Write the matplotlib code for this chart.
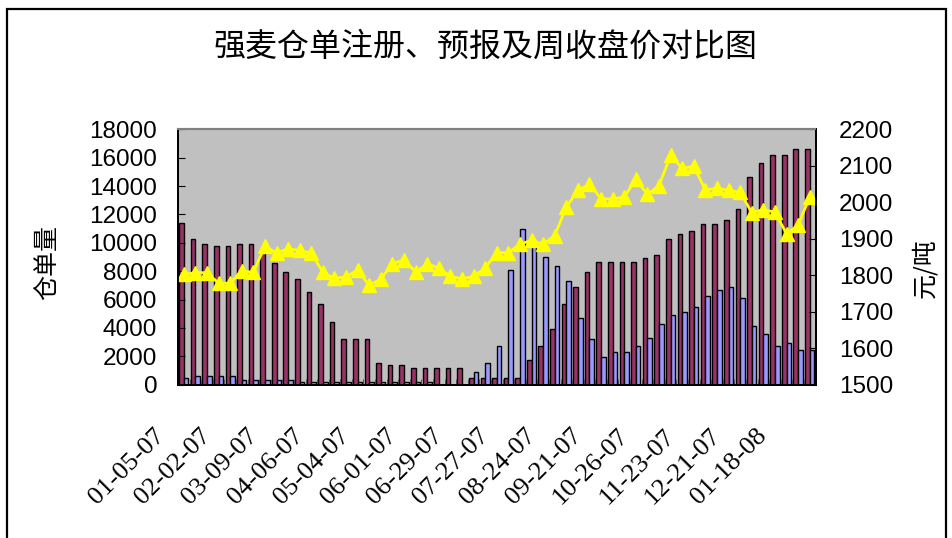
import numpy as np
import matplotlib.pyplot as plt
from matplotlib.patches import Rectangle
from matplotlib.transforms import ScaledTranslation

# weekly data, Jan 2007 - Feb 2008 (holiday weeks absent)
dates = ["01-05-07", "01-12-07", "01-19-07", "01-26-07", "02-02-07", "02-09-07",
         "02-16-07", "03-02-07", "03-09-07", "03-16-07", "03-23-07", "03-30-07",
         "04-06-07", "04-13-07", "04-20-07", "04-27-07", "05-04-07", "05-11-07",
         "05-18-07", "05-25-07", "06-01-07", "06-08-07", "06-15-07", "06-22-07",
         "06-29-07", "07-06-07", "07-13-07", "07-20-07", "07-27-07", "08-03-07",
         "08-10-07", "08-17-07", "08-24-07", "08-31-07", "09-07-07", "09-14-07",
         "09-21-07", "09-28-07", "10-12-07", "10-19-07", "10-26-07", "11-02-07",
         "11-09-07", "11-16-07", "11-23-07", "11-30-07", "12-07-07", "12-14-07",
         "12-21-07", "12-28-07", "01-04-08", "01-11-08", "01-18-08", "01-25-08",
         "02-01-08"]

# warehouse receipts registered
registered = [11400, 10250, 9900, 9750, 9750, 9900, 9900, 9500, 8550, 7950,
              7450, 6550, 5650, 4400, 3200, 3200, 3200, 1500, 1400, 1400,
              1200, 1200, 1200, 1200, 1200, 450, 450, 450, 450, 450,
              1700, 2750, 3950, 5650, 6850, 7950, 8650, 8650, 8650, 8650,
              8950, 9150, 10250, 10650, 10800, 11300, 11300, 11600, 12400, 14650,
              15600, 16200, 16200, 16600, 16600]

# forecast receipts
forecast = [450, 600, 600, 600, 600, 300, 300, 300, 300, 300,
            150, 150, 150, 150, 150, 150, 150, 150, 150, 150,
            150, 150, 0, 0, 0, 900, 1500, 2750, 8050, 10950,
            9900, 9000, 8400, 7300, 4700, 3200, 1950, 2300, 2300, 2750,
            3300, 4250, 4900, 5100, 5500, 6250, 6700, 6900, 6100, 4100,
            3550, 2750, 2900, 2450, 2450]

# weekly close price (yuan/ton)
price = [1802, 1807, 1807, 1778, 1778, 1812, 1808, 1880, 1861, 1873,
         1868, 1861, 1808, 1791, 1796, 1814, 1772, 1790, 1831, 1843,
         1809, 1831, 1820, 1797, 1790, 1797, 1820, 1862, 1862, 1885,
         1896, 1885, 1909, 1987, 2033, 2050, 2010, 2009, 2015, 2063,
         2022, 2046, 2129, 2093, 2099, 2034, 2039, 2033, 2028, 1972,
         1980, 1973, 1914, 1937, 2015]

title = "强麦仓单注册、预报及周收盘价对比图"
cjk = ["Noto Sans CJK SC", "DejaVu Sans"]

W, H = 952, 538
fig = plt.figure(figsize=(W / 100, H / 100), dpi=100)

# outer chart frame
fig.patches.append(Rectangle((7 / W, -0.1), 939 / W, 1.1 - 9 / H,
                             transform=fig.transFigure, fill=False,
                             edgecolor="black", linewidth=1.6))

ax = fig.add_axes([178 / W, 1 - 384.5 / H, 637.5 / W, 255 / H])
ax.set_facecolor("#C0C0C0")

x = np.arange(len(dates))
ax.bar(x - 0.2, registered, width=0.4, color="#993366", edgecolor="black", linewidth=1.0)
ax.bar(x + 0.2, forecast, width=0.4, color="#9999FF", edgecolor="black", linewidth=1.0)

ax.set_xlim(-0.5, len(dates) - 0.5)
ax.set_ylim(0, 18000)
ax.set_yticks(range(0, 18001, 2000))
ax.tick_params(axis="y", direction="in", length=5, pad=15, labelsize=17.5)
for lab in ax.get_yticklabels():
    lab.set_family("Liberation Sans")

ax.set_xticks(x[::4])
ax.set_xticklabels(dates[::4], rotation=45, ha="right", va="top",
                   family="Liberation Serif", fontsize=19)
ax.tick_params(axis="x", length=0, pad=29)
ax.set_xticks(np.arange(-0.5, len(dates), 1), minor=True)
ax.tick_params(axis="x", which="minor", direction="in", length=4, color="#404040")
shift = ScaledTranslation(-15 / 100, 0, fig.dpi_scale_trans)
for lab in ax.get_xticklabels():
    lab.set_transform(lab.get_transform() + shift)

ax2 = ax.twinx()
ax2.plot(x, price, color="#FFFF00", linewidth=2, marker="^", markersize=10,
         markeredgecolor="#FFFF00")
ax2.set_ylim(1500, 2200)
ax2.set_yticks(range(1500, 2201, 100))
ax2.tick_params(axis="y", direction="in", length=5, pad=17, labelsize=17.5)
for lab in ax2.get_yticklabels():
    lab.set_family("Liberation Sans")

for a in (ax, ax2):
    a.spines["top"].set_color("#808080")
    a.spines["top"].set_linewidth(1.5)
    for s in ("left", "right", "bottom"):
        a.spines[s].set_color("black")
        a.spines[s].set_linewidth(1.3)

fig.text(485 / W, 1 - 47 / H, title, ha="center", va="center", fontsize=23, family=cjk)
fig.text(47 / W, 1 - 262 / H, "仓单量", rotation=90, ha="center", va="center",
         fontsize=18, family=cjk)
fig.text(925 / W, 1 - 268 / H, "元/吨", rotation=90, ha="center", va="center",
         fontsize=18, family=cjk)

fig.savefig("out.png", dpi=100)
